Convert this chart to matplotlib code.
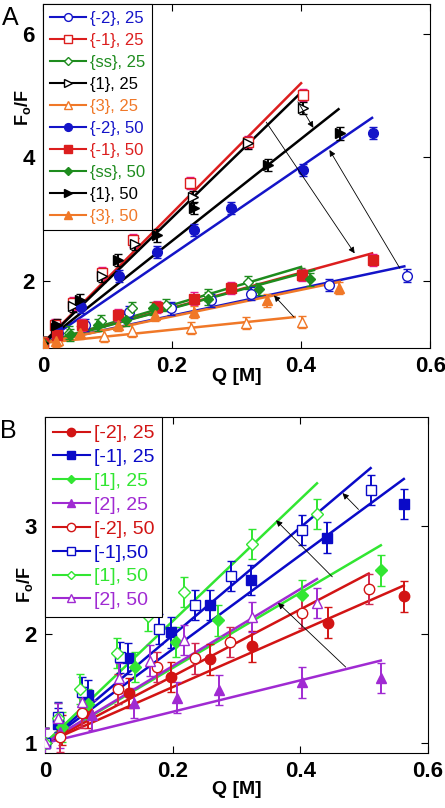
import numpy as np
import matplotlib
matplotlib.use("Agg")
import matplotlib.pyplot as plt
from matplotlib.lines import Line2D

plt.rcParams["font.family"] = "Liberation Sans"
plt.rcParams["mathtext.fontset"] = "custom"
plt.rcParams["mathtext.rm"] = "Liberation Sans"
plt.rcParams["mathtext.bf"] = "Liberation Sans:bold"

# ---- panel A data: Q [M], Fo/F, fit line (x, y) ----
qA_m2_25 = [0, 0.024, 0.065, 0.133, 0.198, 0.26, 0.322, 0.444, 0.564]
fA_m2_25 = [1, 1.16, 1.29, 1.50, 1.56, 1.69, 1.80, 1.94, 2.09]
fitA_m2_25 = ([0, 0.56], [1, 2.24])

qA_m1_25 = [0, 0.019, 0.047, 0.092, 0.139, 0.228, 0.317, 0.403]
fA_m1_25 = [1, 1.29, 1.64, 2.13, 2.66, 3.59, 4.25, 5.01]
fitA_m1_25 = ([0, 0.40], [1, 5.20])

qA_ss_25 = [0, 0.04, 0.09, 0.138, 0.19, 0.255, 0.318, 0.40]
fA_ss_25 = [1, 1.17, 1.36, 1.56, 1.62, 1.78, 1.98, 2.12]
fitA_ss_25 = ([0, 0.40], [1, 2.23])

qA_p1_25 = [0, 0.02, 0.047, 0.092, 0.142, 0.232, 0.318, 0.403]
fA_p1_25 = [1, 1.25, 1.60, 2.08, 2.60, 3.36, 4.23, 4.80]
fitA_p1_25 = ([0, 0.40], [1, 5.05])

qA_p3_25 = [0, 0.024, 0.094, 0.138, 0.229, 0.315, 0.402]
fA_p3_25 = [1, 1.05, 1.12, 1.20, 1.24, 1.32, 1.34]
fitA_p3_25 = ([0, 0.39], [1, 1.42])

qA_m2_50 = [0, 0.022, 0.059, 0.118, 0.176, 0.234, 0.291, 0.403, 0.511]
fA_m2_50 = [1, 1.24, 1.58, 2.08, 2.47, 2.83, 3.18, 3.80, 4.40]
fitA_m2_50 = ([0, 0.51], [1, 4.64])

qA_m1_50 = [0, 0.022, 0.06, 0.117, 0.177, 0.234, 0.291, 0.402, 0.511]
fA_m1_50 = [1, 1.13, 1.29, 1.45, 1.58, 1.72, 1.89, 2.10, 2.34]
fitA_m1_50 = ([0, 0.51], [1, 2.45])

qA_ss_50 = [0, 0.042, 0.086, 0.128, 0.171, 0.255, 0.335, 0.414]
fA_ss_50 = [1, 1.13, 1.29, 1.37, 1.56, 1.72, 1.87, 2.03]
fitA_ss_50 = ([0, 0.42], [1, 2.18])

qA_p1_50 = [0, 0.022, 0.058, 0.117, 0.177, 0.234, 0.349, 0.46]
fA_p1_50 = [1, 1.29, 1.69, 2.34, 2.74, 3.18, 3.88, 4.39]
fitA_p1_50 = ([0, 0.458], [1, 4.78])

qA_p3_50 = [0, 0.02, 0.058, 0.117, 0.174, 0.234, 0.347, 0.458]
fA_p3_50 = [1, 1.04, 1.17, 1.29, 1.45, 1.50, 1.69, 1.89]
fitA_p3_50 = ([0, 0.46], [1, 1.99])

errA = 0.1

# arrows in A: (start, end)
arrowsA = [((0.395, 4.90), (0.419, 4.48)),
           ((0.346, 4.57), (0.483, 2.45)),
           ((0.553, 2.21), (0.444, 4.12)),
           ((0.389, 1.42), (0.358, 1.77))]

# ---- panel B data ----
qB_m2_25 = [0, 0.027, 0.067, 0.132, 0.198, 0.259, 0.325, 0.443, 0.563]
fB_m2_25 = [1, 1.12, 1.28, 1.46, 1.61, 1.77, 1.89, 2.11, 2.35]
fitB_m2_25 = ([0, 0.562], [1, 2.45])

qB_m1_25 = [0, 0.02, 0.067, 0.13, 0.198, 0.259, 0.322, 0.442, 0.563]
fB_m1_25 = [1, 1.18, 1.44, 1.78, 2.02, 2.27, 2.50, 2.89, 3.20]
fitB_m1_25 = ([0, 0.562], [1, 3.43])

qB_p1_25 = [0, 0.027, 0.068, 0.141, 0.205, 0.271, 0.402, 0.526]
fB_p1_25 = [1, 1.15, 1.36, 1.70, 1.93, 2.13, 2.36, 2.59]
fitB_p1_25 = ([0, 0.526], [1, 2.82])

qB_p2_25 = [0, 0.024, 0.073, 0.139, 0.207, 0.272, 0.402, 0.526]
fB_p2_25 = [1, 1.10, 1.26, 1.37, 1.42, 1.49, 1.56, 1.60]
fitB_p2_25 = ([0, 0.526], [1, 1.76])

qB_m2_50 = [0, 0.024, 0.058, 0.115, 0.176, 0.235, 0.29, 0.402, 0.508]
fB_m2_50 = [1, 1.06, 1.28, 1.50, 1.70, 1.78, 1.93, 2.20, 2.42]
fitB_m2_50 = ([0, 0.507], [1, 2.56])

qB_m1_50 = [0, 0.02, 0.058, 0.118, 0.178, 0.235, 0.292, 0.402, 0.51]
fB_m1_50 = [1, 1.24, 1.47, 1.79, 2.05, 2.27, 2.54, 2.96, 3.33]
fitB_m1_50 = ([0, 0.51], [1, 3.53])

qB_p1_50 = [0, 0.02, 0.055, 0.113, 0.162, 0.217, 0.324, 0.426]
fB_p1_50 = [1, 1.23, 1.50, 1.83, 2.17, 2.39, 2.83, 3.11]
fitB_p1_50 = ([0, 0.426], [1, 3.39])

qB_p2_50 = [0, 0.02, 0.058, 0.116, 0.165, 0.218, 0.324, 0.426]
fB_p2_50 = [1, 1.23, 1.38, 1.60, 1.76, 1.95, 2.16, 2.29]
fitB_p2_50 = ([0, 0.426], [1, 2.51])

errB = 0.14

arrowsB = [((0.491, 3.15), (0.466, 3.30)),
           ((0.450, 2.53), (0.362, 3.05)),
           ((0.471, 1.70), (0.365, 2.29))]

xticks = [0, 0.2, 0.4, 0.6]
xticklabels = ["0", "0.2", "0.4", "0.6"]

# styles: label, q, f, fit, color, errcolor, marker, filled
blue = "#1414c8"
red = "#dc1e1e"
green = "#1e8c1e"
orange = "#f07828"
magenta = "#e8188c"

seriesA = [
    ("{-2}, 25", qA_m2_25, fA_m2_25, fitA_m2_25, blue, blue, "o", False),
    ("{-1}, 25", qA_m1_25, fA_m1_25, fitA_m1_25, red, magenta, "s", False),
    ("{ss}, 25", qA_ss_25, fA_ss_25, fitA_ss_25, green, green, "D", False),
    ("{1}, 25", qA_p1_25, fA_p1_25, fitA_p1_25, "black", "black", ">", False),
    ("{3}, 25", qA_p3_25, fA_p3_25, fitA_p3_25, orange, orange, "^", False),
    ("{-2}, 50", qA_m2_50, fA_m2_50, fitA_m2_50, blue, blue, "o", True),
    ("{-1}, 50", qA_m1_50, fA_m1_50, fitA_m1_50, red, magenta, "s", True),
    ("{ss}, 50", qA_ss_50, fA_ss_50, fitA_ss_50, green, green, "D", True),
    ("{1}, 50", qA_p1_50, fA_p1_50, fitA_p1_50, "black", "black", ">", True),
    ("{3}, 50", qA_p3_50, fA_p3_50, fitA_p3_50, orange, orange, "^", True),
]

redB = "#d21414"
blueB = "#0a0ac8"
greenB = "#32e632"
purpleB = "#a02ad2"
pinkB = "#d22850"

seriesB = [
    ("[-2], 25", qB_m2_25, fB_m2_25, fitB_m2_25, redB, redB, "o", True),
    ("[-1], 25", qB_m1_25, fB_m1_25, fitB_m1_25, blueB, blueB, "s", True),
    ("[1], 25", qB_p1_25, fB_p1_25, fitB_p1_25, greenB, greenB, "D", True),
    ("[2], 25", qB_p2_25, fB_p2_25, fitB_p2_25, purpleB, purpleB, "^", True),
    ("[-2], 50", qB_m2_50, fB_m2_50, fitB_m2_50, redB, pinkB, "o", False),
    ("[-1],50", qB_m1_50, fB_m1_50, fitB_m1_50, blueB, blueB, "s", False),
    ("[1], 50", qB_p1_50, fB_p1_50, fitB_p1_50, greenB, greenB, "D", False),
    ("[2], 50", qB_p2_50, fB_p2_50, fitB_p2_50, purpleB, purpleB, "^", False),
]

fig = plt.figure(figsize=(4.45, 8.08), dpi=100)
ax1 = fig.add_axes([0.0966, 0.5693, 0.870, 0.4257])
ax2 = fig.add_axes([0.101, 0.0681, 0.861, 0.4158])


def draw(ax, series, err, arrows, legfs, msize, hlen, lspace):
    handles = []
    for lab, q, f, fit, c, ec, m, filled in series:
        ax.plot(fit[0], fit[1], color=c, lw=1.8, zorder=2)
        ms = msize * (0.75 if m == "D" else 1.0)
        fc = c if filled else "white"
        ax.errorbar(q, f, yerr=err, fmt=m, color=c, ecolor=ec, mfc=fc, mec=c,
                    ms=ms, mew=1.0, elinewidth=1.4, capsize=3, capthick=1.4, zorder=3)
        handles.append(Line2D([], [], color=c, lw=1.5, marker=m, mfc=fc, mec=c,
                              ms=ms * 0.8, label=lab))
    for s, e in arrows:
        ax.annotate("", xy=e, xytext=s,
                    arrowprops=dict(arrowstyle="-|>", lw=0.6, color="black",
                                    mutation_scale=9, shrinkA=0, shrinkB=0), zorder=4)
    leg = ax.legend(handles=handles, loc="upper left", bbox_to_anchor=(0, 1),
                    borderaxespad=0, fontsize=legfs, labelcolor="linecolor",
                    fancybox=False, framealpha=1, edgecolor="black",
                    handlelength=hlen, handletextpad=0.2, labelspacing=lspace,
                    borderpad=0.4)
    leg.get_frame().set_linewidth(0.8)
    leg.set_zorder(5)
    ax.set_xlim(0, 0.6)
    ax.set_xticks(xticks)
    ax.set_xticklabels(xticklabels)
    ax.tick_params(direction="in", length=5, width=0.8, top=True, right=True,
                   labelsize=16, pad=6)
    for t in ax.get_xticklabels() + ax.get_yticklabels():
        t.set_fontweight("bold")
    for sp in ax.spines.values():
        sp.set_linewidth(0.8)
    ax.set_xlabel("Q [M]", fontsize=14, fontweight="bold")
    ax.set_ylabel(r"$\mathbf{F_o/F}$", fontsize=13)


draw(ax1, seriesA, errA, arrowsA, 12, 7, 2.2, 0.42)
ax1.set_ylim(0.92, 6.48)
ax1.set_yticks([2, 4, 6])
ax1.set_yticklabels(["2", "4", "6"])
for t in ax1.get_yticklabels():
    t.set_fontweight("bold")
ax1.xaxis.set_label_coords(0.5, -0.058)
ax1.yaxis.set_label_coords(-0.025, 0.70)

draw(ax2, seriesB, errB, arrowsB, 14, 7.5, 1.9, 0.32)
ax2.set_ylim(0.91, 4.0)
ax2.set_yticks([1, 2, 3])
ax2.set_yticklabels(["1", "2", "3"])
for t in ax2.get_yticklabels():
    t.set_fontweight("bold")
ax2.xaxis.set_label_coords(0.5, -0.083)
ax2.yaxis.set_label_coords(-0.025, 0.5)

fig.text(0.004, 1 - 6 / 808, "A", fontsize=18, va="top", ha="left")
fig.text(0.0, 1 - 419 / 808, "B", fontsize=18, va="top", ha="left")

plt.savefig("out.png", dpi=100)
